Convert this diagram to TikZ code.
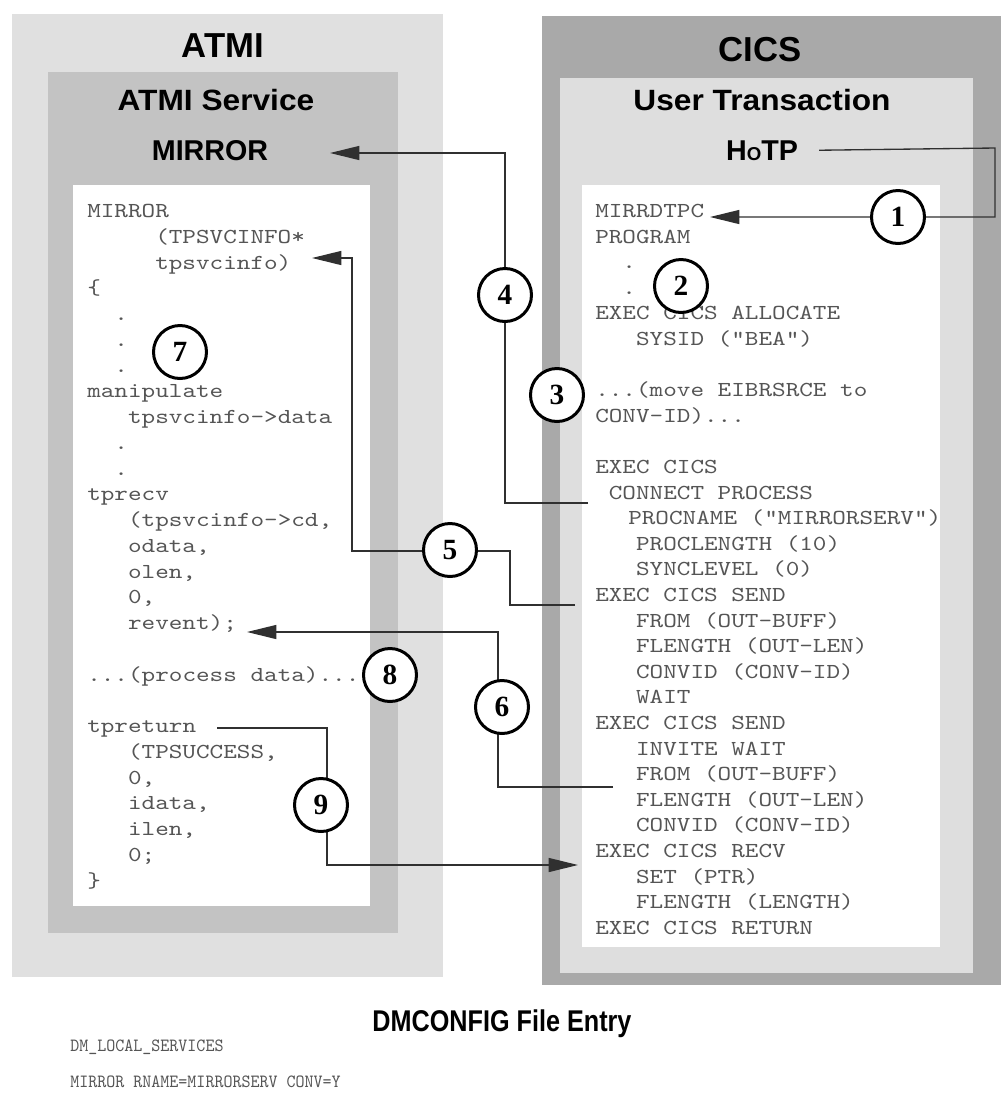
\documentclass[tikz,border=0pt]{standalone}
\usepackage{fontspec}
\usetikzlibrary{arrows.meta}
\newfontfamily\hsans{Liberation Sans}
\newfontfamily\hsanswide[FakeStretch=1.08]{Liberation Sans}
\newfontfamily\hsansnarrow[FakeStretch=0.84]{Liberation Sans}
\newfontfamily\numfont{Liberation Serif}
\newfontfamily\codefont{lmmono10-regular}[Extension=.otf,FakeStretch=1.215]
\newfontfamily\codefontn{lmmono10-regular}[Extension=.otf,FakeStretch=0.92]
\definecolor{atmiouter}{HTML}{E0E0E0}
\definecolor{atmisvc}{HTML}{C3C3C3}
\definecolor{cicsouter}{HTML}{A9A9A9}
\definecolor{usertx}{HTML}{DEDEDE}
\definecolor{codegray}{HTML}{555555}
\definecolor{linegray}{HTML}{303030}
\begin{document}
\begin{tikzpicture}[x=0.75pt,y=-0.75pt,
  every node/.style={inner sep=0pt},
  code/.style={anchor=base west,text=codegray,font={\codefont\fontsize{16pt}{19pt}\selectfont}},
  smallcode/.style={anchor=base west,text=codegray,font={\codefontn\fontsize{14pt}{17pt}\selectfont}},
  titleA/.style={anchor=base,font={\hsans\bfseries\fontsize{26pt}{30pt}\selectfont}},
  titleB/.style={anchor=base,font={\hsanswide\bfseries\fontsize{22pt}{26pt}\selectfont}},
  titleC/.style={anchor=base,font={\hsans\bfseries\fontsize{21.5pt}{26pt}\selectfont}},
  numc/.style={circle,draw=black,line width=2.25pt,fill=white,minimum size=39.75pt,
    font={\numfont\bfseries\fontsize{22pt}{22pt}\selectfont}},
  conn/.style={draw=linegray,line width=1pt},
  arr/.style={conn,-{Triangle[length=22pt,width=10.5pt]}}
]
\useasboundingbox (0,0) rectangle (1001,1108);
\fill[white] (0,0) rectangle (1001,1108);
% boxes
\fill[atmiouter] (12,14) rectangle (443,977);
\fill[atmisvc] (48,72) rectangle (398,933);
\fill[white] (73,185) rectangle (370,906);
\fill[cicsouter] (542,16) rectangle (1001,985);
\fill[usertx] (560,78) rectangle (973,973);
\fill[white] (582,185) rectangle (940,947);
% titles
\node[titleA] (atmi) at (223,57) {ATMI};
\node[titleA] (cics) at (760,61.5) {CICS};
\node[titleB] (atmisvc) at (216,110) {ATMI Service};
\node[titleB] (usertx) at (762,110) {User Transaction};
\node[titleC] (mirror) at (210,160.5) {MIRROR};
\node[titleC] (hotp) at (762,160) {H{\fontsize{14pt}{14pt}\selectfont O}TP};
% left code
\node[code] (l0) at (87,217.5) {MIRROR};
\node[code] (l1) at (155,243.25) {(TPSVCINFO*};
\node[code] (l2) at (155,269) {tpsvcinfo)};
\node[code] (l3) at (87,294.75) {\{};
\node[code] (l4) at (114.2,320.5) {.};
\node[code] (l5) at (114.2,346.25) {.};
\node[code] (l6) at (114.2,372) {.};
\node[code] (l7) at (87,397.75) {manipulate};
\node[code] (l8) at (127.8,423.5) {tpsvcinfo->data};
\node[code] (l9) at (114.2,449.25) {.};
\node[code] (l10) at (114.2,475) {.};
\node[code] (l11) at (87,500.75) {tprecv};
\node[code] (l12) at (127.8,526.5) {(tpsvcinfo->cd,};
\node[code] (l13) at (127.8,552.25) {odata,};
\node[code] (l14) at (127.8,578) {olen,};
\node[code] (l15) at (127.8,603.75) {0,};
\node[code] (l16) at (127.8,629.5) {revent);};
\node[code] (l18) at (87,681) {...(process data)...};
\node[code] (l20) at (87,732.5) {tpreturn};
\node[code] (l21) at (127.8,758.25) {(TPSUCCESS,};
\node[code] (l22) at (127.8,784) {0,};
\node[code] (l23) at (127.8,809.75) {idata,};
\node[code] (l24) at (127.8,835.5) {ilen,};
\node[code] (l25) at (127.8,861.25) {0;};
\node[code] (l26) at (87,887) {\}};
% right code
\node[code] (r0) at (595,217.5) {MIRRDTPC};
\node[code] (r1) at (595,243.1) {PROGRAM};
\node[code] (r2) at (622.2,268.7) {.};
\node[code] (r3) at (622.2,294.3) {.};
\node[code] (r4) at (595,319.9) {EXEC CICS ALLOCATE};
\node[code] (r5) at (635.8,345.5) {SYSID (“BEA”)};
\node[code] (r7) at (595,396.7) {...(move EIBRSRCE to};
\node[code] (r8) at (595,422.3) {CONV-ID)...};
\node[code] (r10) at (595,473.5) {EXEC CICS};
\node[code] (r11) at (608.6,499.1) {CONNECT PROCESS};
\node[code] (r12) at (628,524.7) {PROCNAME (“MIRRORSERV”)};
\node[code] (r13) at (635.8,550.3) {PROCLENGTH (10)};
\node[code] (r14) at (635.8,575.9) {SYNCLEVEL (0)};
\node[code] (r15) at (595,601.5) {EXEC CICS SEND};
\node[code] (r16) at (635.8,627.1) {FROM (OUT-BUFF)};
\node[code] (r17) at (635.8,652.7) {FLENGTH (OUT-LEN)};
\node[code] (r18) at (635.8,678.3) {CONVID (CONV-ID)};
\node[code] (r19) at (635.8,703.9) {WAIT};
\node[code] (r20) at (595,729.5) {EXEC CICS SEND};
\node[code] (r21) at (635.8,755.1) {INVITE WAIT};
\node[code] (r22) at (635.8,780.7) {FROM (OUT-BUFF)};
\node[code] (r23) at (635.8,806.3) {FLENGTH (OUT-LEN)};
\node[code] (r24) at (635.8,831.9) {CONVID (CONV-ID)};
\node[code] (r25) at (595,857.5) {EXEC CICS RECV};
\node[code] (r26) at (635.8,883.1) {SET (PTR)};
\node[code] (r27) at (635.8,908.7) {FLENGTH (LENGTH)};
\node[code] (r28) at (595,934.3) {EXEC CICS RETURN};
% connector end points
\coordinate (e1) at (710,217);
\coordinate (s4) at (588,503);
\coordinate (e4) at (330,153);
\coordinate (s5) at (575,605);
\coordinate (e5) at (312,258);
\coordinate (s6) at (613,787);
\coordinate (e6) at (247,632);
\coordinate (s9) at (217,728);
\coordinate (e9) at (578,865);
% connectors
\draw[arr] ([xshift=15.75pt]hotp.east) -- (995,148) -- (995,217) -- (e1);
\draw[arr] (s4) -- (505,503) -- (505,153) -- (e4);
\draw[arr] (s5) -- (510,605) -- (510,551) -- (352,551) -- (352,258) -- (e5);
\draw[arr] (s6) -- (498,787) -- (498,632) -- (e6);
\draw[arr] (s9) -- (327,728) -- (327,865) -- (e9);
% numbered circles
\node[numc] (n1) at (898,217) {1};
\node[numc] (n2) at (681,286) {2};
\node[numc] (n3) at (557,395) {3};
\node[numc] (n4) at (505,295) {4};
\node[numc] (n5) at (450,550) {5};
\node[numc] (n6) at (502,707) {6};
\node[numc] (n7) at (180,352) {7};
\node[numc] (n8) at (390,675) {8};
\node[numc] (n9) at (321,805) {9};
% DMCONFIG entry
\node[anchor=base,font={\hsansnarrow\bfseries\fontsize{22.5pt}{27pt}\selectfont}] (dmtitle) at (502,1031) {DMCONFIG File Entry};
\node[smallcode] (dmlocal) at (70,1051) {DM\_LOCAL\_SERVICES};
\node[smallcode] (dmmirror) at (70,1087) {MIRROR RNAME=MIRRORSERV CONV=Y};
\end{tikzpicture}
\end{document}
